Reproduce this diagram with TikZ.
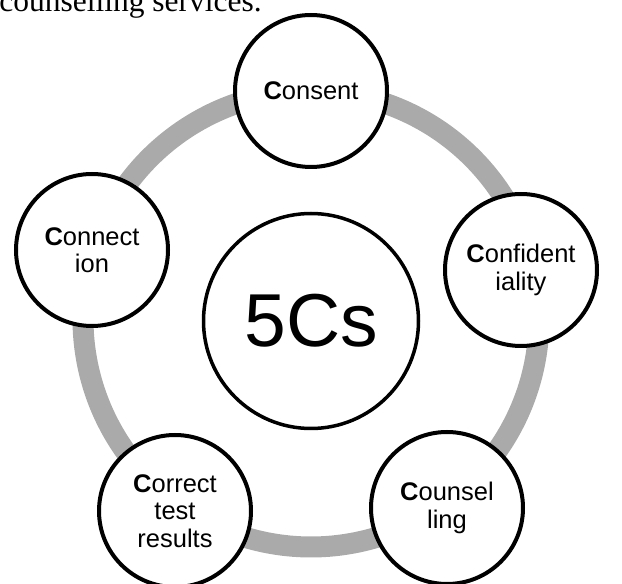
\documentclass[tikz,border=0pt]{standalone}
\usepackage{fontspec}
\setmainfont{Liberation Serif}
\setsansfont{Liberation Sans}
\usetikzlibrary{backgrounds}
\definecolor{ringgray}{RGB}{170,170,170}
\begin{document}
\begin{tikzpicture}[x=1pt,y=1pt,
  ring/.style={line width=21pt, draw=ringgray},
  cnode/.style={circle, draw=black, line width=4pt, fill=white,
    minimum size=152pt, inner sep=0pt, align=center,
    font=\sffamily\fontsize{25.5}{27.5}\selectfont},
  hub/.style={circle, draw=black, line width=3.5pt, fill=white,
    minimum size=215pt, inner sep=0pt,
    font=\sffamily\fontsize{75}{80}\selectfont}]
\useasboundingbox (0,0) rectangle (622,584);
\clip (0,0) rectangle (622,584);

% tail of the preceding sentence
\node[anchor=base east, inner sep=0pt, font=\fontsize{31.5}{36}\selectfont]
  (caption) at (262,572.3) {counselling services.};

% the five circles and the hub
\node[hub]   (hub)     at (311,263) {5Cs};
\node[cnode] (consent) at (311,493) {\textbf{C}onsent};
\node[cnode] (confid)  at (521,314) {\textbf{C}onfident\\iality};
\node[cnode] (counsel) at (447,76)  {\textbf{C}ounsel\\ling};
\node[cnode] (correct) at (175,73)  {\textbf{C}orrect\\test\\results};
\node[cnode] (connect) at (92,334)  {\textbf{C}onnect\\ion};

% grey ring joining the five circles
\coordinate (ctr) at (311,265);
\begin{scope}[shift={(ctr)}]
  \coordinate (r1) at (90:228);
  \coordinate (r2) at (18:228);
  \coordinate (r3) at (-54:228);
  \coordinate (r4) at (-126:228);
  \coordinate (r5) at (162:228);
\end{scope}
\begin{scope}[on background layer]
  \draw[ring] (r1) arc[start angle=90,   end angle=18,   radius=228];
  \draw[ring] (r2) arc[start angle=18,   end angle=-54,  radius=228];
  \draw[ring] (r3) arc[start angle=-54,  end angle=-126, radius=228];
  \draw[ring] (r4) arc[start angle=-126, end angle=-198, radius=228];
  \draw[ring] (r5) arc[start angle=162,  end angle=90,   radius=228];
\end{scope}
\end{tikzpicture}
\end{document}
